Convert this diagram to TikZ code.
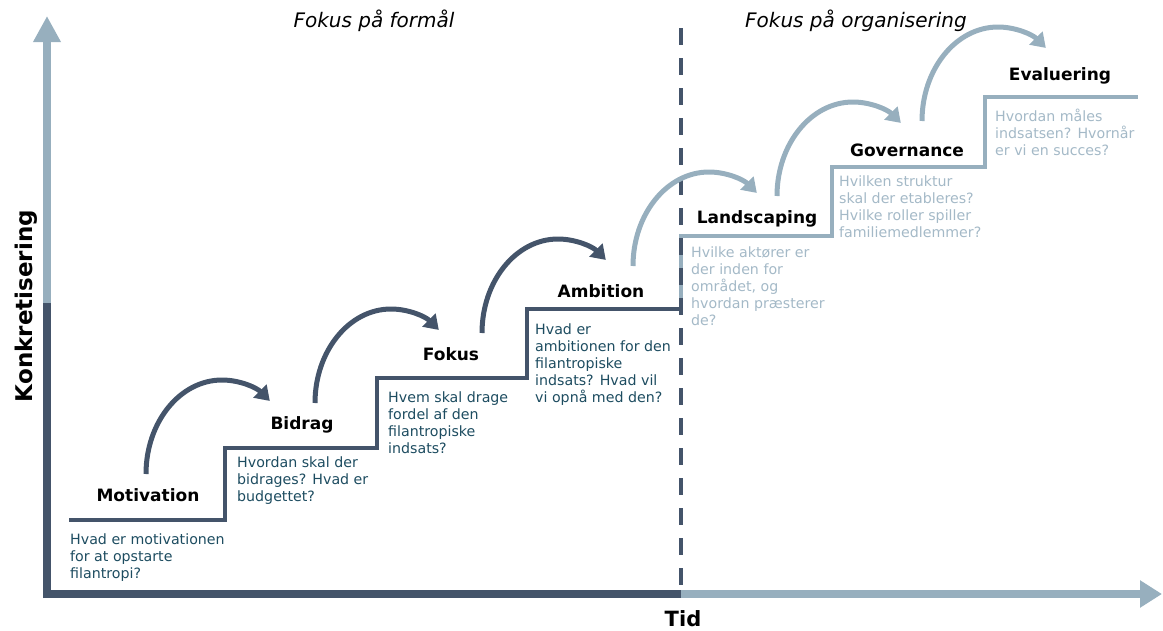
\documentclass[tikz,border=0pt]{standalone}
\usepackage{fontspec}
\setmainfont{DejaVu Sans}
\usetikzlibrary{arrows.meta}
\definecolor{darkax}{HTML}{44546A}
\definecolor{lightax}{HTML}{97AFBE}
\definecolor{qdark}{HTML}{1D4C60}
\definecolor{qlight}{HTML}{A4B9C7}
\begin{document}
\begin{tikzpicture}[x=1pt,y=-1pt,
  lbl/.style={font=\bfseries\fontsize{17}{20}\selectfont, anchor=base, inner sep=0, text=black},
  qtext/.style={font=\fontsize{14.2}{17}\selectfont, anchor=north west, align=left, inner sep=0},
  qd/.style={qtext, text=qdark},
  ql/.style={qtext, text=qlight},
  ttl/.style={font=\itshape\fontsize{20}{23}\selectfont, anchor=base, inner sep=0},
  axlbl/.style={font=\bfseries\fontsize{21}{24}\selectfont, anchor=base, inner sep=0},
  stairD/.style={draw=darkax, line width=4.5pt},
  stairL/.style={draw=lightax, line width=4.5pt},
  hopD/.style={draw=darkax, line width=5pt, -{Triangle[length=14pt,width=18pt]}},
  hopL/.style={draw=lightax, line width=5pt, -{Triangle[length=14pt,width=18pt]}},
  hop/.style={start angle=180, end angle=51, x radius=76pt, y radius=94pt}
]
\useasboundingbox (0,0) rectangle (1163,630);

% axes
\draw[darkax, line width=8pt] (47,598) -- (47,303);
\draw[lightax, line width=8pt, -{Triangle[length=26pt,width=26pt]}] (47,303) -- (47,16);
\draw[darkax, line width=8pt] (43,594) -- (681,594);
\draw[lightax, line width=8pt, -{Triangle[length=22pt,width=26pt]}] (681,594) -- (1162,594);

% stairs
\draw[stairD] (69,520) -- (225,520) -- (225,448) -- (377,448) -- (377,378) -- (527,378) -- (527,309) -- (681,309);
\draw[stairL] (681,309) -- (681,236) -- (832,236) -- (832,167) -- (985,167) -- (985,97) -- (1138,97);

% divider
\draw[darkax, line width=4pt, dash pattern=on 17pt off 13pt] (681,28) -- (681,590);

% titles and axis labels
\node[ttl] (t1) at (374,27) {Fokus på formål};
\node[ttl] (t2) at (856,27) {Fokus på organisering};
\node[axlbl, font=\bfseries\fontsize{23}{26}\selectfont, rotate=90] (ky) at (32,306) {Konkretisering};
\node[axlbl] (kx) at (683,626) {Tid};

% step labels
\node[lbl] (mot) at (148,501) {Motivation};
\node[lbl] (bid) at (302,429) {Bidrag};
\node[lbl] (fok) at (451,360) {Fokus};
\node[lbl] (amb) at (601,297) {Ambition};
\node[lbl] (lan) at (757,223) {Landscaping};
\node[lbl] (gov) at (907,156) {Governance};
\node[lbl] (eva) at (1060,80) {Evaluering};

% questions (top = first baseline - 10.5)
\node[qd] (q1) at (70,533.5) {Hvad er motivationen\\for at opstarte\\filantropi?};
\node[qd] (q2) at (237,456.5) {Hvordan skal der\\bidrages? Hvad er\\budgettet?};
\node[qd] (q3) at (388,391.5) {Hvem skal drage\\fordel af den\\filantropiske\\indsats?};
\node[qd] (q4) at (535,323.5) {Hvad er\\ambitionen for den\\filantropiske\\indsats? Hvad vil\\vi opnå med den?};
\node[ql] (q5) at (691,246.5) {Hvilke aktører er\\der inden for\\området, og\\hvordan præsterer\\de?};
\node[ql] (q6) at (839,175.5) {Hvilken struktur\\skal der etableres?\\Hvilke roller spiller\\familiemedlemmer?};
\node[ql] (q7) at (995,108.5) {Hvordan måles\\indsatsen? Hvornår\\er vi en succes?};

% hop arrows
\coordinate (h1) at (146,474);
\coordinate (h2) at (315,403);
\coordinate (h3) at (482,333);
\coordinate (h4) at (633,266);
\coordinate (h5) at (777,196);
\coordinate (h6) at (922,121);
\draw[hopD] (h1) arc[hop];
\draw[hopD] (h2) arc[hop];
\draw[hopD] (h3) arc[hop];
\draw[hopL] (h4) arc[hop];
\draw[hopL] (h5) arc[hop];
\draw[hopL] (h6) arc[hop];
\end{tikzpicture}
\end{document}
